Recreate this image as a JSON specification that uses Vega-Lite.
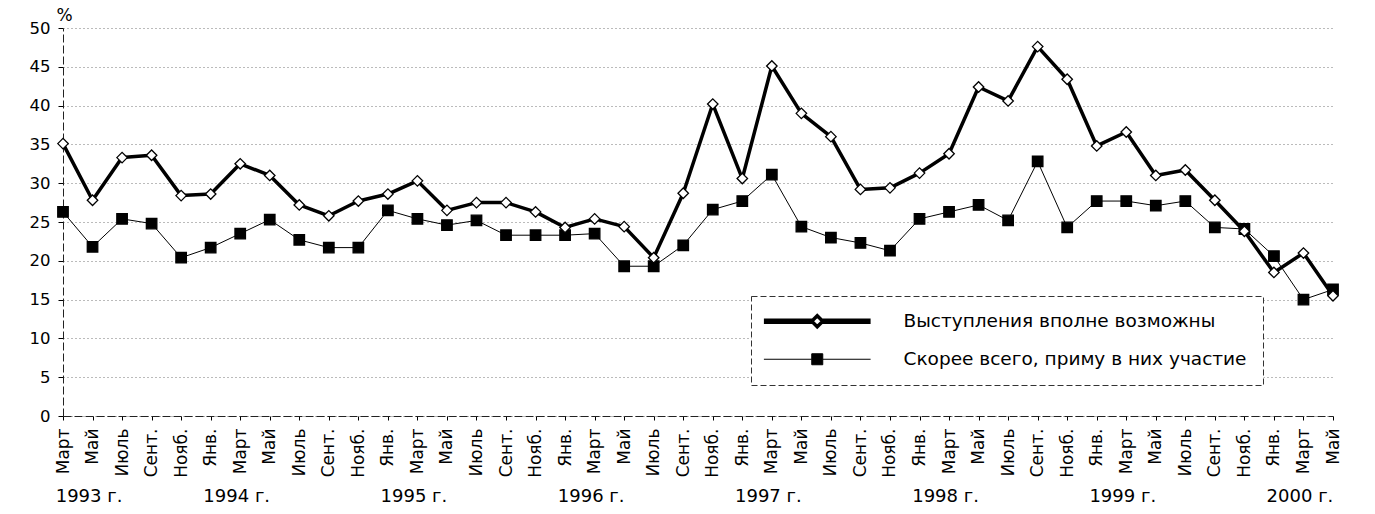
{
  "$schema": "https://vega.github.io/schema/vega-lite/v6.json",
  "width": 1270,
  "height": 388,
  "autosize": {"type": "none"},
  "padding": {"left": 63, "top": 28, "right": 42, "bottom": 98},
  "background": "white",
  "config": {"view": {"stroke": null}, "font": "DejaVu Sans"},
  "data": {"values": [
    {"t": "Март 1993", "A": 35.1, "B": 26.3},
    {"t": "Май 1993", "A": 27.8, "B": 21.8},
    {"t": "Июль 1993", "A": 33.3, "B": 25.4},
    {"t": "Сент. 1993", "A": 33.6, "B": 24.8},
    {"t": "Нояб. 1993", "A": 28.4, "B": 20.4},
    {"t": "Янв. 1994", "A": 28.6, "B": 21.7},
    {"t": "Март 1994", "A": 32.5, "B": 23.5},
    {"t": "Май 1994", "A": 31.0, "B": 25.3},
    {"t": "Июль 1994", "A": 27.2, "B": 22.7},
    {"t": "Сент. 1994", "A": 25.8, "B": 21.7},
    {"t": "Нояб. 1994", "A": 27.7, "B": 21.7},
    {"t": "Янв. 1995", "A": 28.6, "B": 26.5},
    {"t": "Март 1995", "A": 30.3, "B": 25.4},
    {"t": "Май 1995", "A": 26.5, "B": 24.6},
    {"t": "Июль 1995", "A": 27.5, "B": 25.2},
    {"t": "Сент. 1995", "A": 27.5, "B": 23.3},
    {"t": "Нояб. 1995", "A": 26.3, "B": 23.3},
    {"t": "Янв. 1996", "A": 24.3, "B": 23.3},
    {"t": "Март 1996", "A": 25.4, "B": 23.5},
    {"t": "Май 1996", "A": 24.4, "B": 19.3},
    {"t": "Июль 1996", "A": 20.4, "B": 19.3},
    {"t": "Сент. 1996", "A": 28.7, "B": 22.0},
    {"t": "Нояб. 1996", "A": 40.2, "B": 26.6},
    {"t": "Янв. 1997", "A": 30.6, "B": 27.7},
    {"t": "Март 1997", "A": 45.1, "B": 31.1},
    {"t": "Май 1997", "A": 39.0, "B": 24.4},
    {"t": "Июль 1997", "A": 36.0, "B": 23.0},
    {"t": "Сент. 1997", "A": 29.2, "B": 22.3},
    {"t": "Нояб. 1997", "A": 29.4, "B": 21.3},
    {"t": "Янв. 1998", "A": 31.3, "B": 25.4},
    {"t": "Март 1998", "A": 33.8, "B": 26.3},
    {"t": "Май 1998", "A": 42.4, "B": 27.2},
    {"t": "Июль 1998", "A": 40.6, "B": 25.2},
    {"t": "Сент. 1998", "A": 47.6, "B": 32.8},
    {"t": "Нояб. 1998", "A": 43.4, "B": 24.3},
    {"t": "Янв. 1999", "A": 34.8, "B": 27.7},
    {"t": "Март 1999", "A": 36.6, "B": 27.7},
    {"t": "Май 1999", "A": 31.0, "B": 27.1},
    {"t": "Июль 1999", "A": 31.7, "B": 27.7},
    {"t": "Сент. 1999", "A": 27.8, "B": 24.3},
    {"t": "Нояб. 1999", "A": 23.8, "B": 24.1},
    {"t": "Янв. 2000", "A": 18.5, "B": 20.6},
    {"t": "Март 2000", "A": 21.0, "B": 15.0},
    {"t": "Май 2000", "A": 15.5, "B": 16.3}
  ]},
  "transform": [{"fold": ["A", "B"], "as": ["series", "value"]}],
  "encoding": {
    "y": {
      "field": "value", "type": "quantitative",
      "scale": {"domain": [0, 50], "nice": false},
      "axis": {
        "title": "%",
        "titleAngle": 0,
        "titleAlign": "center",
        "titleBaseline": "bottom",
        "titleX": 1,
        "titleY": -4,
        "titleFont": "DejaVu Sans",
        "titleFontSize": 17,
        "titleFontWeight": "normal",
        "titleColor": "black",
        "values": [0, 5, 10, 15, 20, 25, 30, 35, 40, 45, 50],
        "tickCount": 11,
        "labelFont": "DejaVu Sans",
        "labelFontSize": 16.5,
        "labelColor": "black",
        "labelPadding": 8,
        "labelOverlap": false,
        "tickSize": 5,
        "tickColor": "black",
        "domainColor": "#222",
        "domainDash": [8, 3],
        "grid": true,
        "gridDash": [1, 3],
        "gridColor": "#777",
        "gridWidth": 1
      }
    }
  },
  "layer": [
    {
      "mark": {"type": "line", "color": "black", "strokeJoin": "round"},
      "encoding": {
        "x": {
          "field": "t", "type": "ordinal", "sort": null,
          "scale": {"type": "point", "padding": 0},
          "axis": {
            "title": null,
            "labelExpr": "split(datum.value, ' ')[0]",
            "labelAngle": -90,
            "labelFont": "DejaVu Sans",
            "labelFontSize": 17,
            "labelColor": "black",
            "labelPadding": 8,
            "labelOverlap": false,
            "tickSize": 4,
            "tickColor": "black",
            "domainColor": "#222",
            "domainDash": [8, 3],
            "grid": false
          }
        },
        "strokeWidth": {
          "field": "series", "type": "nominal",
          "scale": {"type": "ordinal", "domain": ["A", "B"], "range": [3.5, 1]},
          "legend": {
            "orient": "none",
            "legendX": 688,
            "legendY": 268,
            "title": null,
            "symbolSize": 121,
            "symbolOffset": 41,
            "symbolStrokeColor": "black",
            "labelFont": "DejaVu Sans",
            "labelFontSize": 18.5,
            "labelColor": "black",
            "labelOffset": 77,
            "labelLimit": 0,
            "labelExpr": "datum.value == 'A' ? 'Выступления вполне возможны' : 'Скорее всего, приму в них участие'",
            "padding": 16,
            "rowPadding": 16,
            "strokeColor": "#333",
            "fillColor": "white",
            "encode": {
              "legend": {"update": {"strokeDash": {"value": [6, 3]}}},
              "symbols": {"update": {
                "shape": {"signal": "datum.value == 'A' ? 'M-9.7,-0.2L-1,-0.2M-9.7,0L-1,0M-9.7,0.2L-1,0.2M1,-0.2L9.7,-0.2M1,0L9.7,0M1,0.2L9.7,0.2M-1,0L0,-1L1,0L0,1Z' : 'M-9.7,0L-1,0M1,0L9.7,0M-1,-1L1,-1L1,1L-1,1Z'"},
                "fill": {"signal": "datum.value == 'A' ? 'white' : 'black'"},
                "stroke": {"value": "black"},
                "strokeWidth": {"signal": "datum.value == 'A' ? 1.3 : 1"},
                "opacity": {"value": 1}
              }}
            }
          }
        }
      }
    },
    {
      "mark": {"type": "point", "filled": true, "stroke": "black", "strokeWidth": 1.3, "opacity": 1, "size": 110},
      "encoding": {
        "x": {
          "field": "t", "type": "ordinal", "sort": null,
          "axis": {
            "orient": "bottom",
            "title": null,
            "domain": false,
            "ticks": false,
            "grid": false,
            "labelAngle": 0,
            "labelPadding": 71,
            "labelBaseline": "top",
            "labelAlign": "center",
            "labelFont": "DejaVu Sans",
            "labelFontSize": 18,
            "labelColor": "black",
            "labelOffset": -4,
            "labelOverlap": false,
            "labelExpr": "(datum.value == 'Май 1993' || (indexof(datum.value, 'Март') == 0 && datum.value != 'Март 1993')) ? split(datum.value, ' ')[1] + ' г.' : ''"
          }
        },
        "shape": {
          "field": "series", "type": "nominal",
          "scale": {"range": ["diamond", "square"]},
          "legend": null
        },
        "fill": {
          "field": "series", "type": "nominal",
          "scale": {"range": ["white", "black"]},
          "legend": null
        },
        "order": {"field": "series", "sort": "descending"}
      }
    }
  ],
  "resolve": {"axis": {"x": "independent"}}
}
